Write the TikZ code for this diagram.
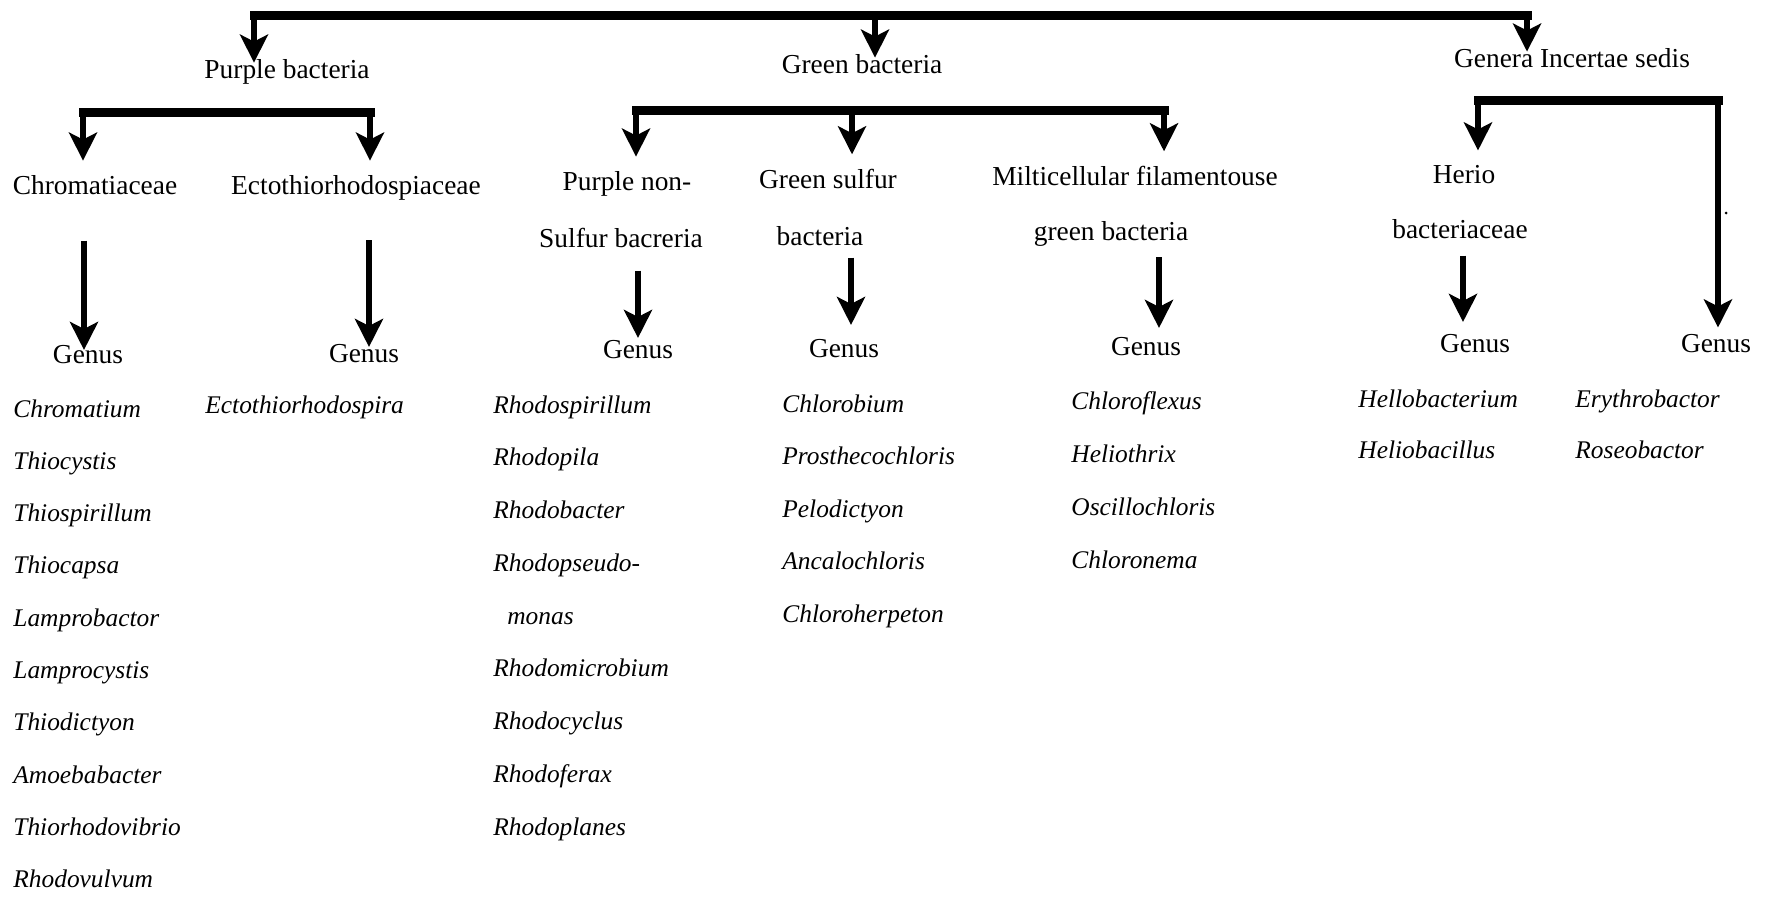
\documentclass[tikz,border=0pt]{standalone}
\usepackage{fontspec}
\setmainfont{Liberation Serif}
\usetikzlibrary{arrows.meta}
\tikzset{
	taxon/.style={anchor=base, inner sep=0pt, font=\fontsize{13.7}{16}\selectfont},
	genusname/.style={anchor=base west, inner sep=0pt, font=\fontsize{12.7}{15}\selectfont\itshape},
	branchbar/.style={line width=4.5pt, line cap=rect},
	droparrow/.style={line width=3pt, -{Stealth[length=14pt, width=14pt, inset=3.5pt]}},
}
\newcommand{\genuslist}[5]{
	\foreach \g [count=\i] in {#5}
		\node [genusname] (#1-\i) at (#2, {#3+#4*(\i-1)}) {\g};
}

\begin{document}
\begin{tikzpicture}[x=0.5pt, y=-0.5pt]
\useasboundingbox (0,0) rectangle (1770,896);

% groups
\node [taxon] (pb) at (287,78) {Purple bacteria};
\node [taxon] (gb) at (862,73) {Green bacteria};
\node [taxon] (gi) at (1572,67) {Genera Incertae sedis};

% families
\node [taxon] (chr) at (95,194) {Chromatiaceae};
\node [taxon] (ect) at (356,194) {Ectothiorhodospiaceae};
\node [taxon] (pns) at (627,190) {Purple non-};
\node [taxon] (pns-b) at (621,247) {Sulfur bacreria};
\node [taxon] (gs) at (828,188) {Green sulfur};
\node [taxon] (gs-b) at (820,245) {bacteria};
\node [taxon] (mf) at (1135,185) {Milticellular filamentouse};
\node [taxon] (mf-b) at (1111,240) {green bacteria};
\node [taxon] (her) at (1464,183) {Herio};
\node [taxon] (her-b) at (1460,238) {bacteriaceae};

% genus heads
\node [taxon] (chr-g) at (88,363) {Genus};
\node [taxon] (ect-g) at (364,362) {Genus};
\node [taxon] (pns-g) at (638,358) {Genus};
\node [taxon] (gs-g) at (844,357) {Genus};
\node [taxon] (mf-g) at (1146,355) {Genus};
\node [taxon] (her-g) at (1475,352) {Genus};
\node [taxon] (gi-g) at (1716,352) {Genus};

% genus lists
\genuslist{chr-l}{13}{417}{52.3}{Chromatium, Thiocystis, Thiospirillum, Thiocapsa, Lamprobactor, Lamprocystis, Thiodictyon, Amoebabacter, Thiorhodovibrio, Rhodovulvum}
\genuslist{ect-l}{205}{413}{52.3}{Ectothiorhodospira}
\genuslist{pns-l}{493}{413}{52.75}{Rhodospirillum, Rhodopila, Rhodobacter, Rhodopseudo-, \hspace*{7pt}monas, Rhodomicrobium, Rhodocyclus, Rhodoferax, Rhodoplanes}
\genuslist{gs-l}{782}{412}{52.5}{Chlorobium, Prosthecochloris, Pelodictyon, Ancalochloris, Chloroherpeton}
\genuslist{mf-l}{1071}{409}{53}{Chloroflexus, Heliothrix, Oscillochloris, Chloronema}
\genuslist{her-l}{1358}{407}{51}{Hellobacterium, Heliobacillus}
\genuslist{gi-l}{1575}{407}{51}{Erythrobactor, Roseobactor}

% top bar
\coordinate (t-pb) at (254,15);
\coordinate (t-gb) at (875,15);
\coordinate (t-gi) at (1527,15);
\draw [branchbar] (t-pb) -- (t-gi);
\foreach \c/\n in {t-pb/pb, t-gb/gb, t-gi/gi}
	\draw [droparrow, shorten >=-2pt] (\c) -- (\c |- \n.north);

% family bars
\coordinate (p-chr) at (83,112);
\coordinate (p-ect) at (370,112);
\coordinate (g-pns) at (636,110);
\coordinate (g-gs) at (852,110);
\coordinate (g-mf) at (1164,110);
\coordinate (i-her) at (1478,100);
\coordinate (i-gen) at (1718,100);
\draw [branchbar] (p-chr) -- (p-ect);
\draw [branchbar] (g-pns) -- (g-mf);
\draw [branchbar] (i-her) -- (i-gen);
\foreach \c/\n in {p-chr/chr, p-ect/ect, g-pns/pns, g-gs/gs, g-mf/mf, i-her/her}
	\draw [droparrow, shorten >=7pt] (\c) -- (\c |- \n.north);
\draw [droparrow, shorten >=3pt] (i-gen) -- (i-gen |- gi-g.north);

% family -> genus
\foreach \x/\a/\b/\s/\t in {84/chr/chr-g/23/-2.75, 369/ect/ect-g/20/-1.75, 638/pns-b/pns-g/11.5/0.75, 851/gs-b/gs-g/6/6.75, 1159/mf-b/mf-g/5.5/4.25, 1463/her-b/her-g/8.5/5.75}
	\draw [droparrow, shorten <=\s pt, shorten >=\t pt] (\a.south -| \x,0) -- (\b.north -| \x,0);

\fill (1726,213) circle (1.5);
\end{tikzpicture}
\end{document}
